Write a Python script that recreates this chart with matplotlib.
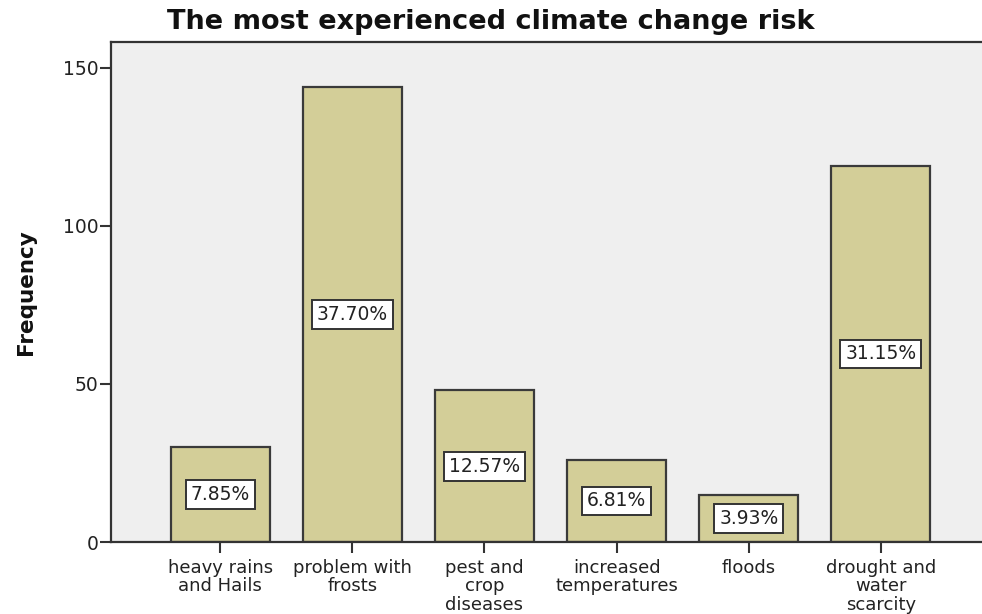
import matplotlib
matplotlib.use("Agg")
import matplotlib.pyplot as plt

categories = ["heavy rains\nand Hails", "problem with\nfrosts", "pest and\ncrop\ndiseases",
              "increased\ntemperatures", "floods", "drought and\nwater\nscarcity"]
frequencies = [30, 144, 48, 26, 15, 119]
percent_labels = ["7.85%", "37.70%", "12.57%", "6.81%", "3.93%", "31.15%"]
yticks = [0, 50, 100, 150]

plt.rcParams['font.family'] = ['DejaVu Sans']

fig = plt.figure(figsize=(9.82, 6.14), dpi=100)
ax = fig.add_axes([111/982, 1 - 542/614, 1 - 111/982 + 0.002, (542 - 42)/614])
ax.set_facecolor('#efefef')

x = list(range(len(categories)))
ax.bar(x, frequencies, width=0.75, color='#d3ce98', edgecolor='#3a3a3a', linewidth=1.6, zorder=2)

for xi, f, lab in zip(x, frequencies, percent_labels):
    ax.text(xi, f / 2, lab, ha='center', va='center', fontsize=13.5, color='#222222', zorder=3,
            bbox=dict(boxstyle='square,pad=0.26', facecolor='white', edgecolor='#333333', linewidth=1.4))

ax.set_xlim(-0.826, 5.78)
ax.set_ylim(0, 158.2)
ax.set_yticks(yticks)
ax.set_yticklabels([str(t) for t in yticks], fontsize=13.5, color='#222222')
ax.set_xticks(x)
ax.set_xticklabels(categories, fontsize=13, color='#222222', linespacing=1.05)
ax.tick_params(axis='both', direction='out', length=8, width=1.5, color='#333333')
ax.tick_params(axis='x', pad=4)
ax.tick_params(axis='y', pad=1)

for side in ['left', 'bottom', 'top']:
    ax.spines[side].set_color('#333333')
    ax.spines[side].set_linewidth(1.6)
ax.spines['right'].set_visible(False)

ax.set_ylabel("Frequency", fontsize=15.5, fontweight='bold', color='#111111', labelpad=19)
fig.text(0.5, 1 - 22/614, "The most experienced climate change risk", fontsize=19.5,
         fontweight='bold', color='#111111', ha='center', va='center')

fig.savefig("out.png", dpi=100, facecolor='white')
